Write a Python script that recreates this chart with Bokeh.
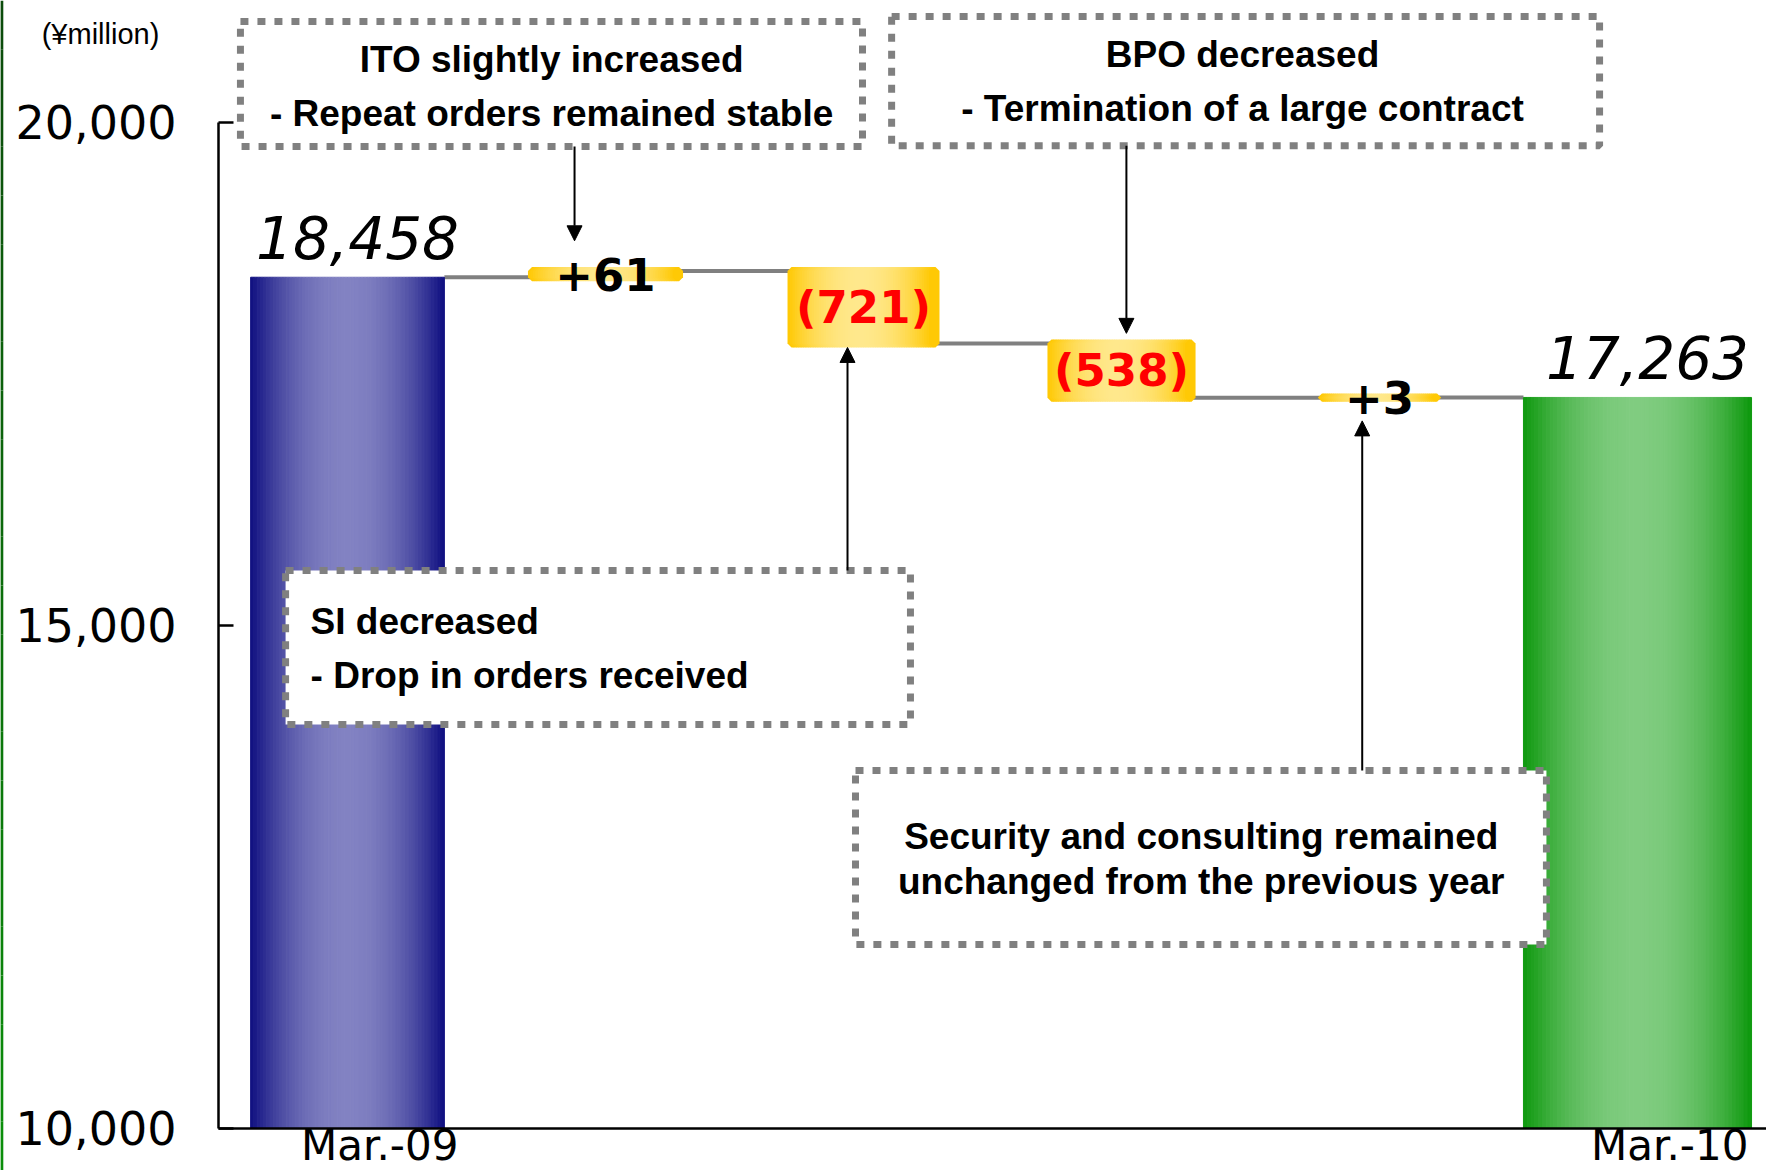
from bokeh.plotting import figure
from bokeh.models import Range1d, FixedTicker, NumeralTickFormatter, Arrow, NormalHead
from bokeh.core.properties import value
from bokeh.embed import file_html
from bokeh.resources import INLINE

# ---------------- data ----------------
categories = ["Mar.-09", "ITO", "SI", "BPO", "Security and consulting", "Mar.-10"]
start_total = 18458
deltas = [61, -721, -538, 3]
end_total = 17263
delta_labels = ["+61", "(721)", "(538)", "+3"]
total_labels = ["18,458", "17,263"]
y_ticks = [10000, 15000, 20000]
axis_base = 10000
unit_label = "(¥million)"
x_tick_labels = {0: "Mar.-09", 5: "Mar.-10"}

note_ito = ["ITO slightly increased", "- Repeat orders remained stable"]
note_bpo = ["BPO decreased", "- Termination of a large contract"]
note_si = ["SI decreased", "- Drop in orders received"]
note_sec = ["Security and consulting remained", "unchanged from the previous year"]

# ---------------- styles / layout ----------------
bar_widths = [0.751, 0.570, 0.558, 0.543, 0.446, 0.884]
BLUE_EDGE, BLUE_CENTER = (14, 14, 128), (130, 130, 194)
GREEN_EDGE, GREEN_CENTER = (12, 152, 12), (128, 204, 128)
YEL_EDGE, YEL_CENTER = (255, 200, 0), (255, 232, 140)
X_LEFT = -1.345       # left edge of the drawing area (room for the value axis)
LABEL_SHIFT = 0.125   # category labels sit slightly right of the bar centres

p = figure(width=1766, height=1170, x_range=Range1d(X_LEFT, 5.5), y_range=Range1d(9578.5, 21208.7),
           output_backend="svg", toolbar_location=None,
           min_border_left=0, min_border_right=0, min_border_top=0, min_border_bottom=0)
p.outline_line_color = None
p.grid.visible = False
p.background_fill_color = "white"
p.border_fill_color = "white"

# y axis (drawn at the left end of the categories)
ya = p.yaxis[0]
ya.fixed_location = -0.5
ya.ticker = FixedTicker(ticks=y_ticks)
ya.formatter = NumeralTickFormatter(format="0,0")
ya.bounds = (y_ticks[0], y_ticks[-1])
ya.major_tick_in = 15
ya.major_tick_out = 0
ya.minor_tick_line_color = None
ya.axis_line_width = 2.5
ya.major_tick_line_width = 2.5
ya.axis_line_color = "black"
ya.major_label_text_font = "DejaVu Sans"
ya.major_label_text_font_size = "46px"
ya.major_label_text_color = "black"
ya.major_label_standoff = 42

# x axis
xa = p.xaxis[0]
shifted = {k + LABEL_SHIFT: v for k, v in x_tick_labels.items()}
xa.ticker = FixedTicker(ticks=list(shifted.keys()))
xa.major_label_overrides = shifted
xa.fixed_location = axis_base
xa.bounds = (-0.5, 5.5)
xa.major_tick_in = 0
xa.major_tick_out = 0
xa.minor_tick_line_color = None
xa.axis_line_width = 2.5
xa.axis_line_color = "black"
xa.major_label_text_font = "DejaVu Sans"
xa.major_label_text_font_size = "42px"
xa.major_label_text_color = "black"
xa.major_label_standoff = -7

# ---------------- decorative slide edge ----------------
n_edge = 24
edge_y = [9578.5 + (21208.7 - 9578.5) * k / n_edge for k in range(n_edge + 1)]
edge_cols = []
for k in range(n_edge):
    f = k / (n_edge - 1)
    edge_cols.append("#%02x%02x%02x" % (int(10 + 2 * f), int(142 - 66 * f), int(10 + 2 * f)))
p.segment(x0=[X_LEFT + 1.3 / 258] * n_edge, x1=[X_LEFT + 1.3 / 258] * n_edge,
          y0=edge_y[:-1], y1=edge_y[1:], line_color=edge_cols, line_width=3)

# ---------------- waterfall geometry from data ----------------
levels = [start_total]
for d in deltas:
    levels.append(levels[-1] + d)
n_bars = len(categories)
bottoms = [axis_base] + [min(levels[k], levels[k + 1]) for k in range(len(deltas))] + [axis_base]
tops = [start_total] + [max(levels[k], levels[k + 1]) for k in range(len(deltas))] + [end_total]


def mix(edge, center, f):
    return "#%02x%02x%02x" % tuple(int(round(c + (e - c) * f)) for e, c in zip(edge, center))


def strips(i, edge, center, n=60):
    w = bar_widths[i]
    L = i - w / 2
    out = dict(left=[], right=[], top=[], bottom=[], color=[])
    for j in range(n):
        l = L + j * w / n
        t = abs((j + 0.5) / n * 2 - 1)
        out["left"].append(l)
        out["right"].append(l + w / n)
        out["top"].append(tops[i])
        out["bottom"].append(bottoms[i])
        out["color"].append(mix(edge, center, t ** 2))
    return out


# connectors
cx0, cx1, cy = [], [], []
for i in range(n_bars - 1):
    cx0.append(i + bar_widths[i] / 2)
    cx1.append(i + 1 - bar_widths[i + 1] / 2)
    cy.append(levels[i])
p.segment(x0=cx0, y0=cy, x1=cx1, y1=cy, line_color="#808080", line_width=4)

# totals
for i, (e, c) in [(0, (BLUE_EDGE, BLUE_CENTER)), (n_bars - 1, (GREEN_EDGE, GREEN_CENTER))]:
    s = strips(i, e, c)
    p.quad(left=s["left"], right=s["right"], top=s["top"], bottom=s["bottom"],
           fill_color=s["color"], line_color=s["color"], line_width=1)

# deltas
for i in range(1, n_bars - 1):
    s = strips(i, YEL_EDGE, YEL_CENTER)
    p.quad(left=s["left"], right=s["right"], top=s["top"], bottom=s["bottom"],
           fill_color=s["color"], line_color=s["color"], line_width=8)

# value labels
p.text(x=[0, n_bars - 1], y=[start_total, end_total], text=total_labels,
       text_font=value("DejaVu Sans"), text_font_style="italic", text_font_size="58px",
       text_color="black", text_align="center", text_baseline="middle",
       x_offset=10, y_offset=-40)
mids = [(levels[k] + levels[k + 1]) / 2 for k in range(len(deltas))]
p.text(x=list(range(1, n_bars - 1)), y=mids, text=delta_labels,
       text_font=value("DejaVu Sans"), text_font_style="bold", text_font_size="45px",
       text_color=["black" if d > 0 else "#ff0000" for d in deltas],
       text_align="center", text_baseline="middle")

# unit label
p.text(x=[X_LEFT + 100 / 258], y=[20871], text=[unit_label],
       text_font=value("Liberation Sans"), text_font_size="29px", text_color="black",
       text_align="center", text_baseline="middle")

# ---------------- annotation boxes ----------------
boxes = [
    dict(l=-0.415, r=1.996, b=19757, t=21000),
    dict(l=2.109, r=4.853, b=19766, t=21050),
    dict(l=-0.240, r=2.182, b=14012, t=15543),
    dict(l=1.969, r=4.647, b=11825, t=13555),
]
p.quad(left=[b["l"] for b in boxes], right=[b["r"] for b in boxes],
       top=[b["t"] for b in boxes], bottom=[b["b"] for b in boxes],
       fill_color="white", line_color="#808080", line_width=7, line_dash="8 9")

note_font = dict(text_font=value("Liberation Sans"), text_font_style="bold",
                 text_font_size="37px", text_color="black", text_baseline="middle")
p.text(x=[0.791, 0.791], y=[20626, 20089], text=note_ito, text_align="center", **note_font)
p.text(x=[3.469, 3.469], y=[20672, 20135], text=note_bpo, text_align="center", **note_font)
p.text(x=[-0.143, -0.143], y=[15040, 14503], text=note_si, text_align="left", **note_font)
p.text(x=[3.309, 3.309], y=[12902, 12454], text=note_sec, text_align="center", **note_font)

arrows = [
    (0.880, 19757, 0.880, 18820),
    (3.019, 19766, 3.019, 17900),
    (1.938, 15543, 1.938, 17760),
    (3.933, 13555, 3.933, 17030),
]
for xs, ys, xe, ye in arrows:
    p.add_layout(Arrow(end=NormalHead(size=15, fill_color="black", line_color="black"),
                       x_start=xs, y_start=ys, x_end=xe, y_end=ye,
                       line_color="black", line_width=2))

open("out.html", "w").write(file_html(p, INLINE))
